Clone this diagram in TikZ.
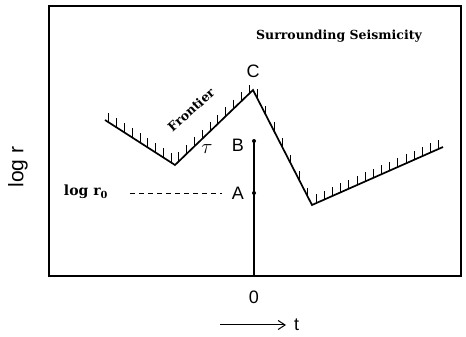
\documentclass[tikz,border=0pt]{standalone}
\usepackage{fontspec}
\setmainfont{DejaVu Serif}
\setsansfont{Liberation Sans}
\usetikzlibrary{positioning,arrows.meta,calc}

\begin{document}
\begin{tikzpicture}[
  x=1pt, y=1pt,
  lbl/.style={font=\sffamily\fontsize{18}{18}\selectfont, inner sep=0pt},
  title/.style={font=\rmfamily\bfseries\fontsize{12.5}{12.5}\selectfont, inner sep=0pt},
  frontier/.style={line width=1.7pt, line join=miter},
  hatch/.style={line width=1pt},
  dot/.style={circle, fill, inner sep=0pt, minimum size=4pt},
  ]
  \useasboundingbox (0,0) rectangle (466,337);
  % frame
  \coordinate (sw) at (49,61);
  \coordinate (ne) at (461,331);
  \draw[line width=1.5pt] (sw) rectangle (ne);

  % frontier of the seismicity
  \coordinate (p0) at (105,217);
  \coordinate (p1) at (175,172);
  \coordinate (pc) at (253,247);
  \coordinate (p2) at (312,132);
  \coordinate (p3) at (443,190);
  \draw[frontier] (p0) -- (p1) -- (pc) -- (p2) -- (p3);
  \foreach \a/\b/\n in {p0/p1/9, p1/pc/10, pc/p2/7, p2/p3/16}
    \foreach \i in {1,...,\n}
      \draw[hatch] ($(\a)!{(\i-0.5)/\n}!(\b)$) -- ++(0,9);

  % time of the event
  \node[dot] (ptB) at (254,196) {};
  \node[dot] (ptA) at (254,144) {};
  \coordinate (pt0) at (254,61);
  \draw[line width=1.6pt] (ptB.center) -- (pt0);
  \coordinate (dashL) at (130,144);
  \draw[dashed, line width=0.8pt, dash pattern=on 5pt off 4pt] (dashL) -- ($(ptA)+(-32,0)$);

  \node[lbl] (lblA) at (238,144) {A};
  \node[lbl] (lblB) at (238,192) {B};
  \node[lbl] (lblC) at (253,266) {C};
  \node[font=\fontsize{20}{20}\selectfont, inner sep=0pt] (tau) at (207,188) {$\tau$};
  \node[font=\rmfamily\bfseries\fontsize{12.5}{12.5}\selectfont, rotate=42, inner sep=0pt] (front) at (191,227) {Frontier};
  \node[title] (surr) at (339,301) {Surrounding Seismicity};
  \node[font=\rmfamily\bfseries\fontsize{14}{14}\selectfont, inner sep=0pt] (logr0) at (86,145) {log r$_{\mathbf{0}}$};

  % axes labels
  \node[lbl, font=\sffamily\fontsize{21}{21}\selectfont, rotate=90] (logr) at (18,170) {log r};
  \node[lbl] (zero) at (254,40) {0};
  \coordinate (tL) at (220,12);
  \coordinate (tR) at (286,12);
  \draw[line width=1pt, -{Straight Barb[length=7pt, width=9pt]}] (tL) -- (tR);
  \node[lbl, right=8pt of tR] (tlbl) {t};
\end{tikzpicture}
\end{document}
